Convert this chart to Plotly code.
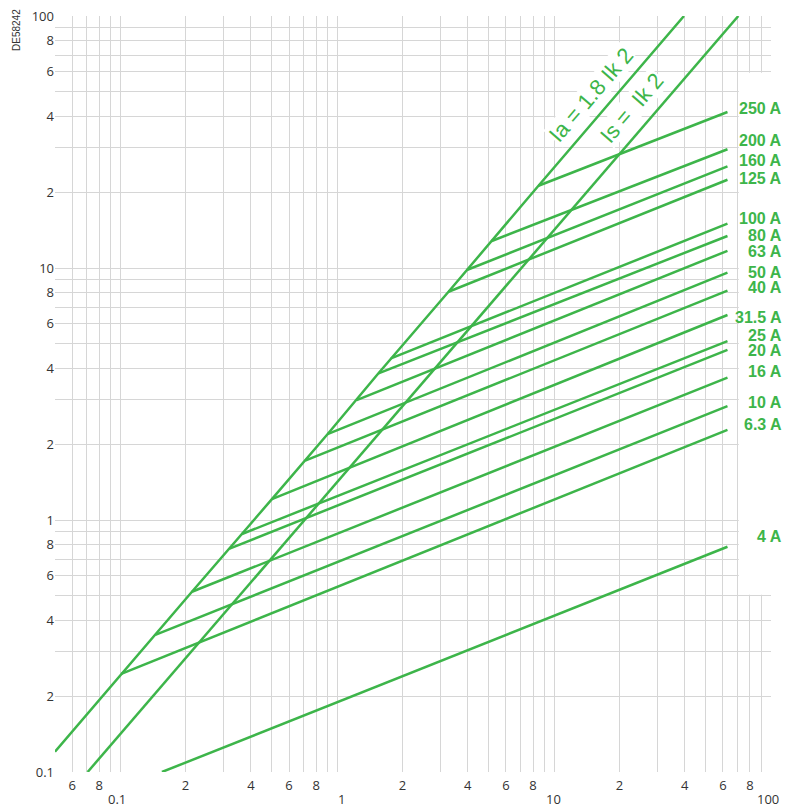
import math
import plotly.graph_objects as go

# ---------------- data ----------------
fuse_labels = ["4 A", "6.3 A", "10 A", "16 A", "20 A", "25 A", "31.5 A", "40 A",
               "50 A", "63 A", "80 A", "100 A", "125 A", "160 A", "200 A", "250 A"]
fuse_start_x = [0.1556, 0.101, 0.145, 0.214, 0.319, 0.364, 0.5, 0.712,
                0.902, 1.23, 1.55, 1.77, 3.26, 3.96, 5.16, 8.47]
fuse_start_y = [0.1, 0.245, 0.35, 0.519, 0.77, 0.88, 1.21, 1.72,
                2.19, 2.99, 3.82, 4.38, 8.05, 9.82, 12.8, 21.2]
fuse_end_x = [63, 63, 63, 63, 63, 63, 63, 63, 63, 63, 63, 63, 63, 63, 63, 63]
fuse_end_y = [0.783, 2.28, 2.83, 3.67, 4.73, 5.13, 6.51, 8.13,
              9.58, 11.7, 13.4, 15.0, 22.4, 25.3, 29.6, 41.6]

# peak current curves
ia_x = [0.05, 0.101, 0.214, 0.5, 0.902, 1.55, 3.26, 8.47, 39.7]
ia_y = [0.1204, 0.245, 0.519, 1.21, 2.19, 3.82, 8.05, 21.2, 100]
is_x = [0.0707, 70.7]
is_y = [0.1, 100]

# axis ticks
x_major_vals = [0.06, 0.08, 0.2, 0.4, 0.6, 0.8, 2, 4, 6, 8, 20, 40, 60, 80]
x_major_text = ["6", "8", "2", "4", "6", "8", "2", "4", "6", "8", "2", "4", "6", "8"]
x_minor_vals = [0.05, 0.07, 0.09, 0.1, 0.3, 0.5, 0.7, 0.9, 1, 3, 5, 7, 9, 10,
                30, 50, 70, 90, 100]
x_decade_vals = [0.1, 1, 10, 100]
x_decade_text = ["0.1", "1", "10", "100"]
y_major_vals = [0.1, 0.2, 0.4, 0.6, 0.8, 1, 2, 4, 6, 8, 10, 20, 40, 60, 80, 100]
y_major_text = ["0.1", "2", "4", "6", "8", "1", "2", "4", "6", "8", "10",
                "2", "4", "6", "8", "100"]
y_minor_vals = [0.3, 0.5, 0.7, 0.9, 3, 5, 7, 9, 30, 50, 70, 90]

# ---------------- styling ----------------
GREEN = "#3db54a"
GRID = "#d6d6d6"
TICKC = "#333333"
label_nudge = [10.7, 5.7, 3.6, 6, -1, 6, -2.3, 3.4, 0, -0.7, 0.7, 5, 1, 6.3, 8.6, 3]
decade_xshift = [-3, 4, -1, -3]

fig = go.Figure()

fig.add_trace(go.Scatter(x=ia_x, y=ia_y, mode="lines",
                         line=dict(color=GREEN, width=2.5), hoverinfo="skip"))
fig.add_trace(go.Scatter(x=is_x, y=is_y, mode="lines",
                         line=dict(color=GREEN, width=2.5), hoverinfo="skip"))
for i in range(len(fuse_labels)):
    fig.add_trace(go.Scatter(x=[fuse_start_x[i], fuse_end_x[i]],
                             y=[fuse_start_y[i], fuse_end_y[i]], mode="lines",
                             line=dict(color=GREEN, width=2.5), hoverinfo="skip"))

annotations = []
for i, lab in enumerate(fuse_labels):
    annotations.append(dict(text="<b>%s</b>" % lab, xref="paper", x=1, xanchor="right",
                            xshift=13, yref="y", y=math.log10(fuse_end_y[i]),
                            yanchor="middle", yshift=label_nudge[i], showarrow=False,
                            font=dict(family="Liberation Sans, Arial", size=16, color=GREEN)))
for v, t, s in zip(x_decade_vals, x_decade_text, decade_xshift):
    annotations.append(dict(text=t, xref="x", x=math.log10(v), yref="paper", y=0,
                            yanchor="middle", yshift=-27, xshift=s, showarrow=False,
                            font=dict(family="Open Sans", size=13, color=TICKC)))
annotations.append(dict(text="Ia = 1.8 Ik 2", xref="x", yref="y",
                        x=1.1719, y=1.6889, textangle=-49.3, showarrow=False,
                        bgcolor="white", borderpad=0,
                        font=dict(family="Liberation Sans, Arial", size=22, color=GREEN)))
annotations.append(dict(text="Is =  Ik 2", xref="x", yref="y",
                        x=1.3608, y=1.6357, textangle=-49.3, showarrow=False,
                        bgcolor="white", borderpad=0,
                        font=dict(family="Liberation Sans, Arial", size=22, color=GREEN)))
annotations.append(dict(text="DE58242", xref="paper", yref="paper", x=0, y=1,
                        xanchor="center", yanchor="top", textangle=-90, showarrow=False,
                        xshift=-39, yshift=9,
                        font=dict(family="Liberation Sans, Arial", size=10, color="#333")))

# the page adds an 8 px body margin, so the figure is 8 px smaller
fig.update_layout(
    width=791, height=801,
    margin=dict(l=47, r=28, t=8, b=37),
    paper_bgcolor="white", plot_bgcolor="white",
    showlegend=False,
    annotations=annotations,
    shapes=[dict(type="rect", xref="x", yref="y", x0=71, x1=140, y0=0.505, y1=59.5,
                 fillcolor="white", line=dict(width=0), layer="between")],
    xaxis=dict(type="log", range=[math.log10(0.05), 2], tickmode="array",
               tickvals=x_major_vals, ticktext=x_major_text, showgrid=True,
               gridcolor=GRID, gridwidth=1.3, zeroline=False, showline=False,
               automargin=False, ticklabeloverflow="allow", ticklabelstandoff=4,
               ticks="", tickfont=dict(family="Open Sans", size=13, color=TICKC),
               minor=dict(tickvals=x_minor_vals, showgrid=True, gridcolor=GRID,
                          gridwidth=1.3, ticks="")),
    yaxis=dict(type="log", range=[-1, 2], tickmode="array",
               tickvals=y_major_vals, ticktext=y_major_text, showgrid=True,
               gridcolor=GRID, gridwidth=1.3, zeroline=False, showline=False,
               automargin=False, ticklabeloverflow="allow",
               ticks="", tickfont=dict(family="Open Sans", size=13, color=TICKC),
               minor=dict(tickvals=y_minor_vals, showgrid=True, gridcolor=GRID,
                          gridwidth=1.3, ticks="")),
)

fig.write_html("out.html")
